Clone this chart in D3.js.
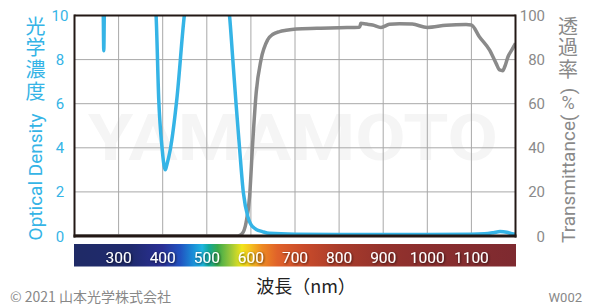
<!DOCTYPE html>
<html><head><meta charset="utf-8">
<script src="https://cdn.jsdelivr.net/npm/d3@7/dist/d3.min.js"></script>
<style>
html,body{margin:0;padding:0;background:#fff;}
svg{display:block;font-family:Roboto,"Noto Sans","Noto Sans CJK JP",sans-serif;}
</style></head>
<body><svg id="c" width="600" height="308"></svg>
<script>
// ---- data ----
const xTicks = [300,400,500,600,700,800,900,1000,1100];
const odTicks = [0,2,4,6,8,10];
const tTicks = [0,20,40,60,80,100];
// optical density curve (values above 10 are clipped off the top)
const odWl  = [200,255,264.5,266.4,268.3,275,380,385,391,399,403,406,409,417,432,449,455,545,551.5,559,566.7,574,583,593,598,604,612,626,642,700,800,900,1000,1100,1130,1150,1165,1180,1192,1200];
const odVal = [11,11,11,8.4,11,11,11,10,6.2,3.9,3.2,3.0,3.2,3.9,6.2,10,11,11,10,8,5.9,4.05,1.95,0.88,0.6,0.42,0.3,0.2,0.12,0.08,0.07,0.07,0.07,0.08,0.1,0.15,0.2,0.17,0.1,0.08];
// transmittance curve (%)
const tWl  = [200,570,580,589,597,604,612,623,638,650,665,680,703,750,801,846,848,849,862,876,895,914,937,966,1000,1043,1088,1100,1118,1141,1156,1164,1171,1176,1183,1192,1200];
const tVal = [0,0,1,6,17.8,42,65,80,89,91.5,92.7,93.3,93.9,94.2,94.5,94.7,95.5,96.5,96.1,95.7,94.6,96,96.3,96.1,94.6,95.6,95.9,95.7,90.4,84.4,78.3,75.3,75,77,81.3,84.5,87.4];
// spectrum bar colours
const specWl  = [200,330,400,440,470,490,505,525,555,580,600,625,660,720,800,900,1000,1200];
const specCol = ["#1f2a66","#1f2a6e","#2a2f95","#2152c0","#1a8fd8","#1fb5e0","#12a89a","#3aaa4a","#9cc83a","#f2e51a","#f4c020","#ee8a22","#e0622a","#c94b2a","#a93c2b","#94322c","#8a2e2e","#7e2a30"];

// ---- drawing ----
const svg = d3.select("#c");
const L=74.5, R=515.5, T=15.5, B=236;
const x = d3.scaleLinear().domain([200,1200]).range([L,R]);
const yOD = d3.scaleLinear().domain([0,10]).range([B,T]);
const yT = d3.scaleLinear().domain([0,100]).range([B,T]);
const blue="#35b4e6", gray="#8a8a8a", dark="#231815";

// watermark
svg.append("text").attr("x",88).attr("y",160).attr("textLength",410).attr("lengthAdjust","spacingAndGlyphs")
  .attr("font-size",64).attr("font-weight","bold").attr("fill","#f5f5f5").text("YAMAMOTO");

// grid
const g = svg.append("g");
g.selectAll(".vg").data(xTicks).join("line")
  .attr("x1",d=>x(d)).attr("x2",d=>x(d)).attr("y1",T).attr("y2",B)
  .attr("stroke","#a8a8a8").attr("stroke-width",1);
g.selectAll(".hg").data(odTicks.filter(d=>d>0&&d<10)).join("line")
  .attr("x1",L).attr("x2",R).attr("y1",d=>yOD(d)).attr("y2",d=>yOD(d))
  .attr("stroke","#a8a8a8").attr("stroke-width",1);

// clip
svg.append("clipPath").attr("id","clip").append("rect").attr("x",L).attr("y",T).attr("width",R-L).attr("height",B-T);
const plot = svg.append("g").attr("clip-path","url(#clip)");

const odData = odWl.map((w,i)=>[w,odVal[i]]);
const tData = tWl.map((w,i)=>[w,tVal[i]]);
plot.append("path").datum(tData)
  .attr("d",d3.line().x(d=>x(d[0])).y(d=>yT(d[1])).curve(d3.curveMonotoneX))
  .attr("fill","none").attr("stroke",gray).attr("stroke-width",3.5).attr("stroke-linejoin","round");
plot.append("path").datum(odData)
  .attr("d",d3.line().x(d=>x(d[0])).y(d=>yOD(d[1])).curve(d3.curveMonotoneX))
  .attr("fill","none").attr("stroke",blue).attr("stroke-width",3.5).attr("stroke-linejoin","round");

// frame
svg.append("line").attr("x1",L).attr("x2",R).attr("y1",T).attr("y2",T).attr("stroke",dark).attr("stroke-width",2);
svg.append("line").attr("x1",L).attr("x2",L).attr("y1",T-1).attr("y2",B+1.5).attr("stroke",dark).attr("stroke-width",2);
svg.append("line").attr("x1",R).attr("x2",R).attr("y1",T-1).attr("y2",B+1.5).attr("stroke",dark).attr("stroke-width",2);
svg.append("line").attr("x1",L-1).attr("x2",R+1).attr("y1",B).attr("y2",B).attr("stroke",dark).attr("stroke-width",3);

// left ticks
svg.selectAll(".lt").data(odTicks).join("text")
  .attr("x",60).attr("y",d=>yOD(d)+5.5).attr("text-anchor","middle")
  .attr("font-size",15).attr("fill",blue).text(d=>d);
// right ticks
svg.selectAll(".rt").data(tTicks).join("text")
  .attr("x",545).attr("y",d=>yT(d)+5.5).attr("text-anchor","end")
  .attr("font-size",15).attr("fill",gray).text(d=>d);

// spectrum bar
const defs = svg.append("defs");
const grad = defs.append("linearGradient").attr("id","spec").attr("x1","0%").attr("x2","100%");
grad.selectAll("stop").data(specWl).join("stop")
  .attr("offset",d=>((d-200)/1000*100)+"%").attr("stop-color",(d,i)=>specCol[i]);
const flt = defs.append("filter").attr("id","sh").attr("x","-20%").attr("y","-20%").attr("width","140%").attr("height","140%");
flt.append("feDropShadow").attr("dx",0.8).attr("dy",0.8).attr("stdDeviation",0.8).attr("flood-color","#000").attr("flood-opacity",0.7);
svg.append("rect").attr("x",L-0.5).attr("y",244).attr("width",R-L+1).attr("height",22.5).attr("fill","url(#spec)");
svg.selectAll(".bt").data(xTicks).join("text")
  .attr("x",d=>x(d)).attr("y",262.5).attr("text-anchor","middle")
  .attr("font-size",15.5).attr("fill","#fff").attr("filter","url(#sh)").text(d=>d);

// left axis title (vertical Japanese + rotated English)
svg.append("text").attr("x",35.5).attr("y",16)
  .style("writing-mode","vertical-rl").attr("letter-spacing",1.7)
  .attr("font-size",20).attr("font-family","'Noto Sans CJK JP',sans-serif").attr("fill",blue).text("光学濃度");
svg.append("text").attr("transform","translate(42,177) rotate(-90)").attr("text-anchor","middle")
  .attr("font-size",19).attr("fill",blue).text("Optical Density");

// right axis title
svg.append("text").attr("x",568).attr("y",16)
  .style("writing-mode","vertical-rl").attr("letter-spacing",1.5)
  .attr("font-size",20).attr("font-family","'Noto Sans CJK JP',sans-serif").attr("fill",gray).text("透過率");
svg.append("text").attr("transform","translate(575,91) rotate(-90)").attr("text-anchor","middle")
  .attr("font-size",19).attr("fill",gray).text(")");
svg.append("text").attr("x",568).attr("y",109).attr("text-anchor","middle")
  .attr("font-size",18).attr("fill",gray).text("%");
svg.append("text").attr("transform","translate(575,118) rotate(-90)").attr("text-anchor","middle")
  .attr("font-size",19).attr("fill",gray).text("(");
svg.append("text").attr("transform","translate(575,182) rotate(-90)").attr("text-anchor","middle")
  .attr("font-size",19).attr("fill",gray).text("Transmittance");

// bottom texts
svg.append("text").attr("x",306).attr("y",293).attr("text-anchor","middle")
  .attr("font-size",18).attr("font-family","'Noto Sans CJK JP',sans-serif").attr("fill","#222").text("波長（nm）");
svg.append("text").attr("x",10).attr("y",301.5)
  .attr("font-size",14).attr("font-family","'Noto Sans CJK JP',sans-serif").attr("fill","#888").text("© 2021 山本光学株式会社");
svg.append("text").attr("x",582).attr("y",301.5).attr("text-anchor","end")
  .attr("font-size",13).attr("fill","#888").text("W002");
</script></body></html>
